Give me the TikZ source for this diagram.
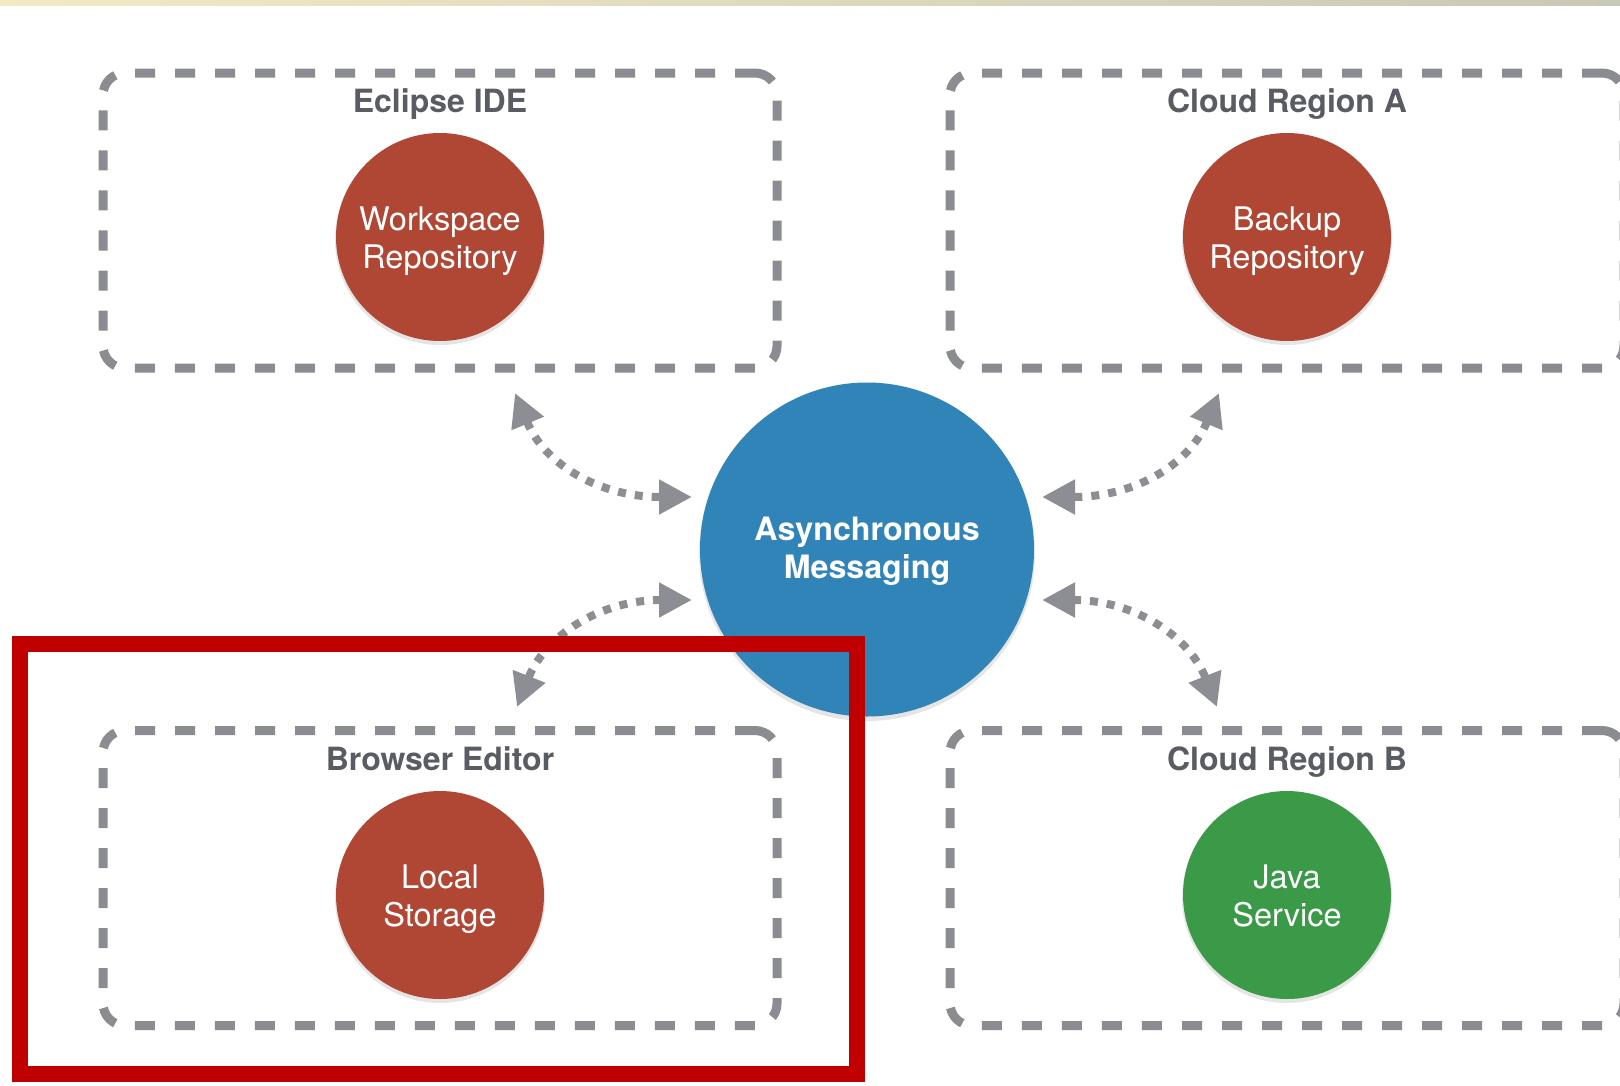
\documentclass[tikz,border=0pt]{standalone}
\usepackage{fontspec}
\setmainfont{TeX Gyre Heros}
\usetikzlibrary{arrows.meta}
\definecolor{boxgray}{HTML}{8A8C91}
\definecolor{arrgray}{HTML}{8C8E93}
\definecolor{titlegray}{HTML}{595C62}
\definecolor{repored}{HTML}{B04634}
\definecolor{msgblue}{HTML}{3184B8}
\definecolor{svcgreen}{HTML}{3A9A47}
\definecolor{hilite}{HTML}{C00000}
\definecolor{stripA}{HTML}{F1EAC4}
\definecolor{stripB}{HTML}{C8C8B6}
\newcommand\twoline[2]{\rule{0pt}{33pt}#1\\#2\rule[-8pt]{0pt}{8pt}}
\newcommand\hubline[2]{\rule{0pt}{28pt}#1\\#2\rule[-8pt]{0pt}{8pt}}
\tikzset{
  groupbox/.style={draw=boxgray, line width=9pt, dash pattern=on 20pt off 20pt,
    rounded corners=22pt, minimum width=674pt, minimum height=295pt, inner sep=0pt},
  grouptitle/.style={text=titlegray, font=\bfseries\fontsize{32}{38}\selectfont, inner sep=0pt, anchor=base},
  repo/.style={circle, minimum size=208pt, inner sep=0pt, align=center, text=white,
    font=\fontsize{32.5}{38}\selectfont},
  hub/.style={circle, fill=msgblue, minimum size=334pt, inner sep=0pt, align=center, text=white,
    font=\bfseries\fontsize{32.2}{38}\selectfont},
  shadowc/.style={circle, fill=black, opacity=0.10, inner sep=0pt},
  flow/.style={draw=arrgray, line width=8pt, dash pattern=on 8pt off 9pt,
    {Triangle[length=33pt,width=33pt]}-{Triangle[length=33pt,width=33pt]}},
}
\begin{document}
\begin{tikzpicture}[x=1pt,y=-1pt]
\useasboundingbox (0,0) rectangle (1620,1085);
\fill[white] (0,0) rectangle (1620,1085);
\shade[left color=stripA, right color=stripB] (0,0) rectangle (1620,5);

% group boxes
\node[groupbox] (eclipse) at (440,220.5) {};
\node[groupbox] (regionA) at (1287,220.5) {};
\node[groupbox] (browser) at (440,878) {};
\node[groupbox] (regionB) at (1287,878) {};

\node[grouptitle] (eclipseT) at (440,112) {Eclipse IDE};
\node[grouptitle] (regionAT) at (1287,112) {Cloud Region A};
\node[grouptitle] (browserT) at (440,770) {Browser Editor};
\node[grouptitle] (regionBT) at (1287,770) {Cloud Region B};

% shadows
\node[shadowc, minimum size=210pt] (s1) at (440,240) {};
\node[shadowc, minimum size=210pt] (s2) at (1287,240) {};
\node[shadowc, minimum size=210pt] (s3) at (440,898) {};
\node[shadowc, minimum size=210pt] (s4) at (1287,898) {};
\node[shadowc, minimum size=336pt] (s5) at (867,553) {};

% circles
\node[repo, fill=repored] (ws) at (440,237) {\twoline{Workspace}{Repository}};
\node[repo, fill=repored] (backup) at (1287,237) {\twoline{Backup}{Repository}};
\node[repo, fill=repored] (local) at (440,895) {\twoline{Local}{Storage}};
\node[repo, fill=svcgreen] (java) at (1287,895) {\twoline{Java}{Service}};
\node[hub] (msg) at (867,549.5) {\hubline{Asynchronous}{Messaging}};

% arrow end points
\coordinate (a1s) at (515,393);
\coordinate (a1e) at (692,497);
\coordinate (a2s) at (692,600);
\coordinate (a2e) at (517,707);
\coordinate (a3s) at (1219,393);
\coordinate (a3e) at (1042,497);
\coordinate (a4s) at (1042,600);
\coordinate (a4e) at (1217,707);

\draw[flow] (a1s) .. controls (545,465) and (600,497) .. (a1e);
\draw[flow] (a2s) .. controls (600,600) and (545,636) .. (a2e);
\draw[flow] (a3s) .. controls (1189,465) and (1134,497) .. (a3e);
\draw[flow] (a4s) .. controls (1134,600) and (1189,636) .. (a4e);

% highlight frame
\draw[hilite, line width=16pt] (19.5,643.5) rectangle (857,1074);
\end{tikzpicture}
\end{document}
